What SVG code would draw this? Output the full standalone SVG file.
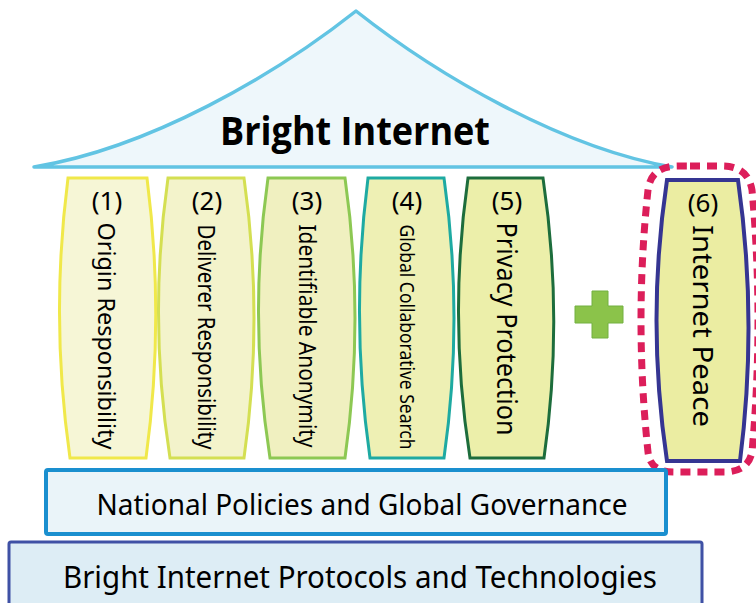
<svg xmlns="http://www.w3.org/2000/svg" width="756" height="603" viewBox="0 0 756 603">
<style>
.t{font-family:"Noto Sans","Open Sans","Liberation Sans",sans-serif;fill:#000}
.num{font-size:26px;text-anchor:middle}
.v{text-anchor:middle}
.pl{stroke-width:3}
</style>
<rect width="756" height="603" fill="#fff"/>
<g id="roof">
<path d="M34 167 C150 148 275 75 356 11 C437 75 562 148 672 167 Z" fill="#eef7fb" stroke="#62c4e3" stroke-width="3.5" stroke-linejoin="round"/>
<text x="355" y="145" font-size="39" text-anchor="middle" textLength="270" lengthAdjust="spacingAndGlyphs" style="font-family:'Open Sans','Liberation Sans',sans-serif;font-weight:bold;fill:#000">Bright Internet</text>
</g>
<g id="pillar1">
<path class="pl" d="M68 178 L147 178 Q165 318 146 458 L70 458 Q50 318 68 178 Z" fill="#f6f6d6" stroke="#f0e84a"/>
<text class="t num" x="107" y="210">(1)</text>
<text class="t v" font-size="24" transform="translate(107 336) rotate(90)" dy="0.36em" textLength="227" lengthAdjust="spacingAndGlyphs">Origin Responsibility</text>
</g>
<g id="pillar2">
<path class="pl" d="M168 178 L244 178 Q264 318 244 458 L170 458 Q148 318 168 178 Z" fill="#f3f3cb" stroke="#d4df52"/>
<text class="t num" x="207" y="210">(2)</text>
<text class="t v" font-size="23" transform="translate(206 337) rotate(90)" dy="0.36em" textLength="225" lengthAdjust="spacingAndGlyphs">Deliverer Responsibility</text>
</g>
<g id="pillar3">
<path class="pl" d="M268 178 L345 178 Q365 318 345 458 L270 458 Q248 318 268 178 Z" fill="#f0f0c0" stroke="#8dc853"/>
<text class="t num" x="307" y="210">(3)</text>
<text class="t v" font-size="23" transform="translate(307 336) rotate(90)" dy="0.36em" textLength="223" lengthAdjust="spacingAndGlyphs">Identifiable Anonymity</text>
</g>
<g id="pillar4">
<path class="pl" d="M368 178 L444 178 Q464 318 444 458 L370 458 Q350 318 368 178 Z" fill="#eef0b4" stroke="#1eaaa2"/>
<text class="t num" x="407" y="210">(4)</text>
<text class="t v" font-size="20" transform="translate(407 337) rotate(90)" dy="0.36em" textLength="225" lengthAdjust="spacingAndGlyphs">Global Collaborative Search</text>
</g>
<g id="pillar5">
<path class="pl" d="M468 178 L543 178 Q564 318 544 458 L470 458 Q448 318 468 178 Z" fill="#ecefaa" stroke="#1d6d3c"/>
<text class="t num" x="507" y="210">(5)</text>
<text class="t v" font-size="27" transform="translate(507 329) rotate(90)" dy="0.36em" textLength="213" lengthAdjust="spacingAndGlyphs">Privacy Protection</text>
</g>
<g id="plus">
<path d="M592 291 H608 V306 H623 V323 H608 V338 H592 V323 H575 V306 H592 Z" fill="#8bc34a" stroke="#72b040" stroke-width="1"/>
</g>
<g id="pillar6">
<path d="M690 166 L722 166 Q748 166 752 190 Q764 320 752 452 Q748 472 724 472 L674 472 Q650 472 648 452 Q634 320 648 190 Q651 166 678 166 Z" fill="none" stroke="#dc1e5a" stroke-width="7" stroke-dasharray="10 7"/>
<path d="M667 180 L738 180 Q758 320 740 461 L667 461 Q646 320 667 180 Z" fill="#ebeda2" stroke="#353592" stroke-width="4"/>
<text class="t num" x="703" y="212">(6)</text>
<text class="t v" font-size="28" transform="translate(703 326) rotate(90)" dy="0.36em" textLength="202" lengthAdjust="spacingAndGlyphs">Internet Peace</text>
</g>
<g id="connectors"></g>
<g id="national">
<rect x="46" y="470" width="620" height="64" rx="2" fill="#eaf4f9" stroke="#1a8fcf" stroke-width="4"/>
<text class="t" x="362" y="515" font-size="29" text-anchor="middle" textLength="531" lengthAdjust="spacingAndGlyphs">National Policies and Global Governance</text>
</g>
<g id="protocols">
<rect x="9" y="542" width="693" height="70" rx="2" fill="#ddedf5" stroke="#3f51a5" stroke-width="3"/>
<text class="t" x="360" y="588" font-size="31" text-anchor="middle" textLength="594" lengthAdjust="spacingAndGlyphs">Bright Internet Protocols and Technologies</text>
</g>
</svg>
